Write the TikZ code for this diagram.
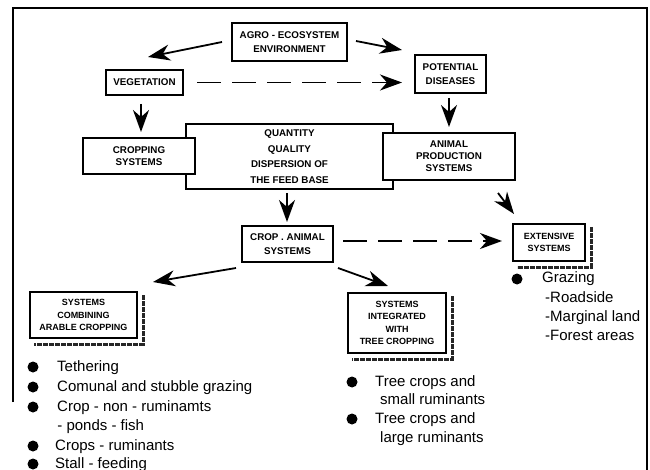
\documentclass[tikz,border=0pt]{standalone}
\usepackage{fontspec}
\setmainfont{Liberation Sans}
\usetikzlibrary{arrows.meta}
\begin{document}
\begin{tikzpicture}[x=1pt,y=-1pt,
  box/.style={draw,line width=2pt,fill=white,align=center,inner sep=1pt,font=\bfseries\fontsize{9.8}{13.5}\selectfont},
  sbox/.style={box,font=\bfseries\fontsize{9}{12.5}\selectfont},
  arr/.style={line width=1.8pt,-{Stealth[length=22pt,width=16pt,inset=7pt]}},
  darr/.style={arr,dash pattern=on 24pt off 11pt},
  shad/.style={line width=3pt,black!85,dash pattern=on 5pt off 1pt},
  bul/.style={circle,fill,inner sep=0pt,minimum size=11pt},
  item/.style={anchor=west,inner sep=0pt,text height=11pt,text depth=3pt,font=\fontsize{15}{18}\selectfont},
  frameline/.style={line width=1.2pt}]
\useasboundingbox (0,0) rectangle (650,470);
% frame
\coordinate (f1) at (13,402);
\coordinate (f2) at (13,8);
\coordinate (f3) at (647,8);
\coordinate (f4) at (647,470);
\draw[frameline] (f1) -- (f2) -- (f3) -- (f4);
% nodes
\node[box,minimum width=115pt,minimum height=38pt] (agro) at (289.5,42) {AGRO - ECOSYSTEM\\ENVIRONMENT};
\node[box,minimum width=77pt,minimum height=25pt] (veg) at (144.5,82.5) {VEGETATION};
\node[box,minimum width=71pt,minimum height=38pt] (pot) at (450.5,74) {POTENTIAL\\DISEASES};
\node[box,minimum width=207pt,minimum height=65pt,font=\bfseries\fontsize{9.8}{15.5}\selectfont] (feed) at (289.5,156.5) {QUANTITY\\QUALITY\\DISPERSION OF\\THE FEED BASE};
\node[box,minimum width=112pt,minimum height=36pt,font=\bfseries\fontsize{9.8}{12}\selectfont] (crop) at (139,156) {CROPPING\\SYSTEMS};
\node[box,minimum width=132pt,minimum height=47pt,font=\bfseries\fontsize{9.8}{12}\selectfont] (anim) at (449,156.5) {ANIMAL\\PRODUCTION\\SYSTEMS};
\node[box,minimum width=91pt,minimum height=36pt] (ca) at (287.5,244) {CROP . ANIMAL\\SYSTEMS};
\node[sbox,minimum width=72pt,minimum height=37pt] (ext) at (549,242.5) {EXTENSIVE\\SYSTEMS};
\node[sbox,minimum width=107pt,minimum height=46pt] (comb) at (83.5,315) {SYSTEMS\\COMBINING\\ARABLE CROPPING};
\node[sbox,minimum width=98pt,minimum height=60pt] (integ) at (397,323) {SYSTEMS\\INTEGRATED\\WITH\\TREE CROPPING};
% shadows
\foreach \n in {ext,comb,integ}{
  \draw[shad] ([shift={(5pt,-4pt)}]\n.north east) -- ([shift={(5pt,-5pt)}]\n.south east) -- ([shift={(5pt,-5pt)}]\n.south west);
}
% arrows
\draw[arr] ([xshift=-9pt]agro.west) -- ([shift={(3.5pt,12pt)}]veg.north);
\draw[arr] ([shift={(8pt,1pt)}]agro.east) -- ([shift={(-12pt,4pt)}]pot.north west);
\draw[darr] ([xshift=13pt]veg.east) -- ([xshift=-12pt]veg.east -| pot.west);
\draw[arr] ([shift={(-3.5pt,-8pt)}]veg.south) -- ([shift={(-3.5pt,5pt)}]veg.south |- crop.north);
\draw[arr] ([shift={(-1.5pt,-4pt)}]pot.south) -- ([shift={(-1.5pt,5pt)}]pot.south |- anim.north);
\draw[arr] ([shift={(-2.5pt,-3pt)}]feed.south) -- ([shift={(-2.5pt,3pt)}]feed.south |- ca.north);
\draw[arr] ([shift={(-18pt,-12pt)}]anim.south east) -- ([shift={(2pt,9pt)}]ext.north west);
\draw[darr] ([shift={(9pt,3pt)}]ca.east) -- ([shift={(-10pt,1.5pt)}]ext.west);
\draw[arr] ([shift={(-5pt,-5pt)}]ca.south west) -- ([shift={(15pt,9pt)}]comb.north east);
\draw[arr] ([shift={(4pt,-5pt)}]ca.south east) -- ([shift={(-9pt,6pt)}]integ.north);
% left list
\node[bul] (b1) at (33,367) {};
\node[item] (t1) at (57,367) {Tethering};
\node[bul] (b2) at (33,387) {};
\node[item] (t2) at (57,387) {Comunal and stubble grazing};
\node[bul] (b3) at (33,407) {};
\node[item] (t3) at (57,407) {Crop - non - ruminamts};
\node[item] (t3b) at (53,426) {\ - ponds - fish};
\node[bul] (b4) at (33,446) {};
\node[item] (t4) at (55,446) {Crops - ruminants};
\node[bul] (b5) at (33,464) {};
\node[item] (t5) at (55,464) {Stall - feeding};
% middle list
\node[bul] (m1) at (352,382) {};
\node[item] (mt1) at (375,382) {Tree crops and};
\node[item] (mt1b) at (380,400) {small ruminants};
\node[bul] (m2) at (352,419) {};
\node[item] (mt2) at (375,419) {Tree crops and};
\node[item] (mt2b) at (380,438) {large ruminants};
% right list
\node[bul] (r1) at (517,279) {};
\node[item] (rt1) at (542,279) {Grazing};
\node[item] (rt2) at (545,298) {-Roadside};
\node[item] (rt3) at (545,317) {-Marginal land};
\node[item] (rt4) at (545,336) {-Forest areas};
\end{tikzpicture}
\end{document}
